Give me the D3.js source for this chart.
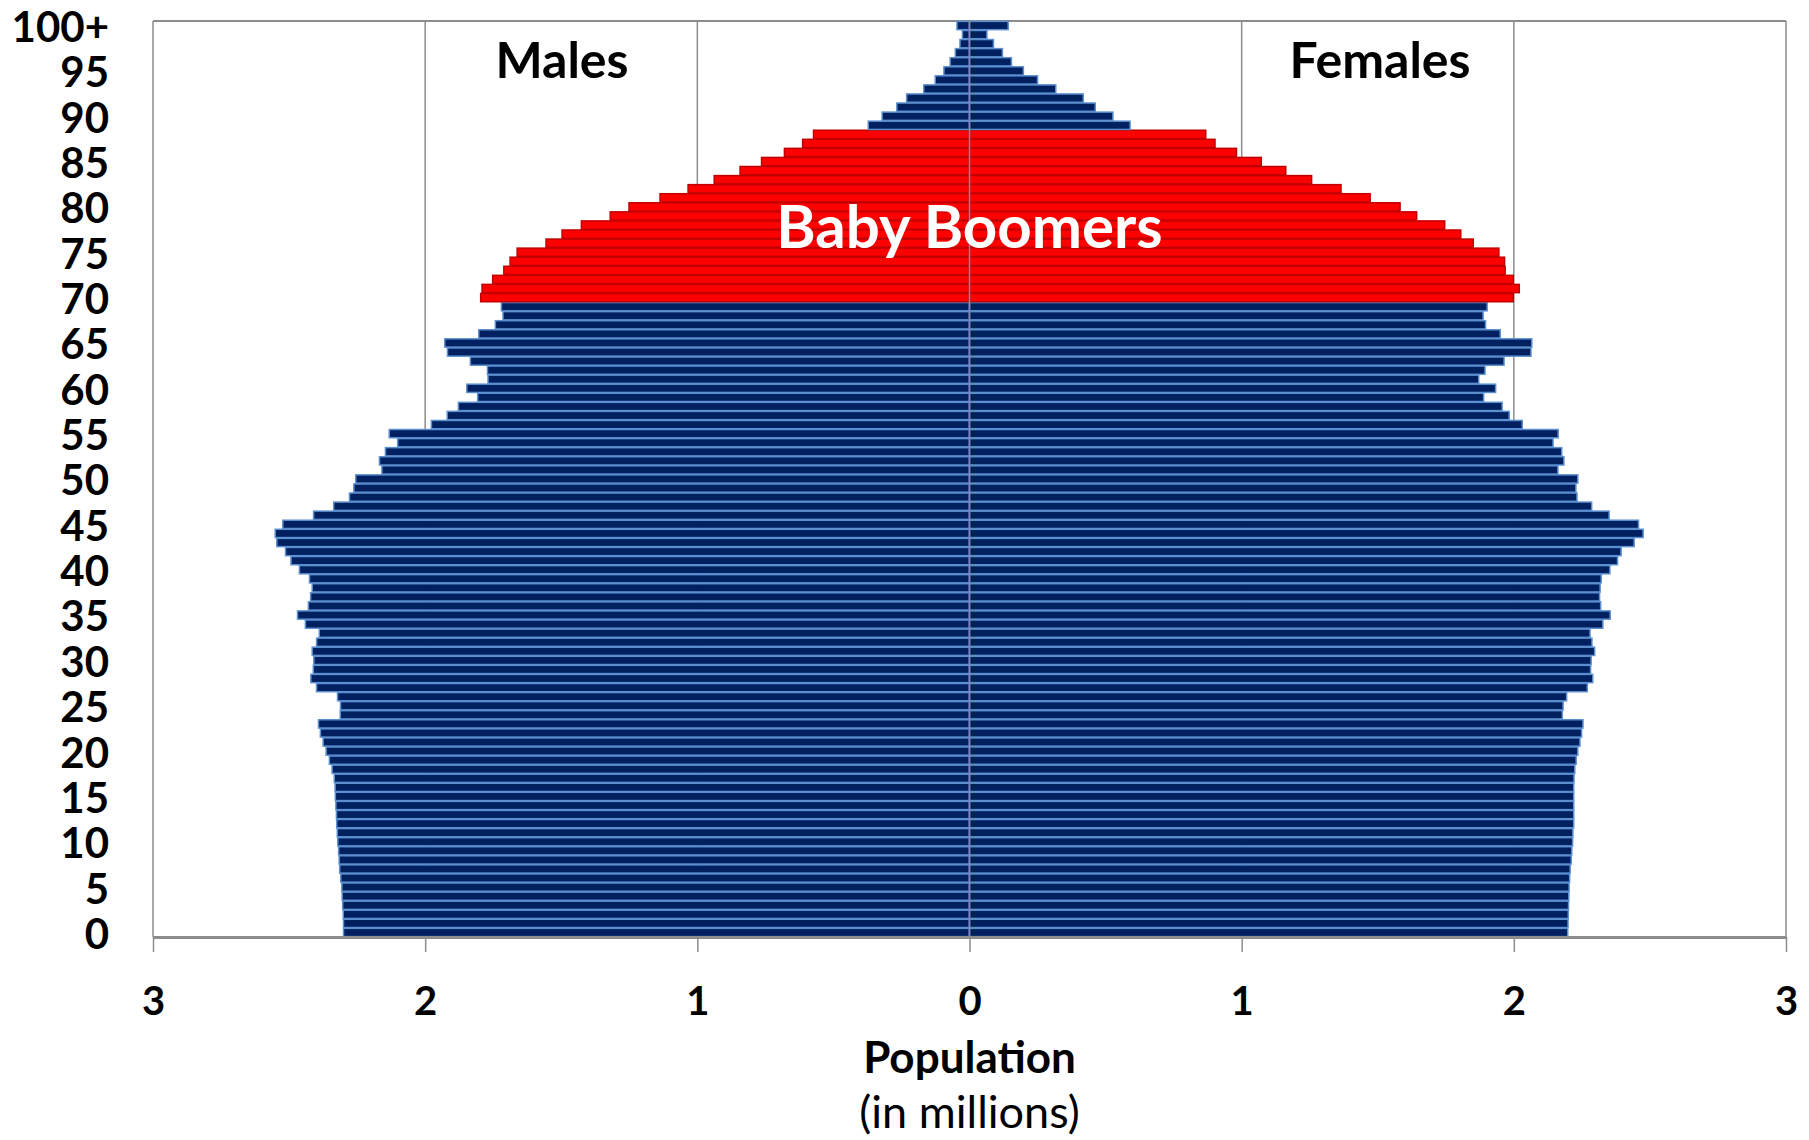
<!DOCTYPE html>
<html>
<head>
<meta charset="utf-8">
<script src="https://cdn.jsdelivr.net/npm/d3@7"></script>
<style>
	body { margin: 0; background: #fff; }
	svg text { font-family: Lato, "Open Sans", sans-serif; }
</style>
</head>
<body>
<svg></svg>
<script>
// age groups, bottom (0) to top (100+)
const ages = d3.range(0, 100).map(String).concat(["100+"]);

// population in millions, index = age
const males = [
	2.300, 2.300, 2.301, 2.303, 2.305, 2.306, 2.310, 2.314, 2.316, 2.318,
	2.321, 2.323, 2.325, 2.326, 2.328, 2.330, 2.331, 2.334, 2.342, 2.352,
	2.364, 2.375, 2.385, 2.392, 2.312, 2.311, 2.322, 2.399, 2.420, 2.411,
	2.409, 2.415, 2.399, 2.389, 2.440, 2.469, 2.429, 2.421, 2.415, 2.425,
	2.462, 2.493, 2.513, 2.545, 2.551, 2.523, 2.410, 2.336, 2.278, 2.262,
	2.255, 2.159, 2.168, 2.146, 2.101, 2.132, 1.977, 1.919, 1.878, 1.807,
	1.847, 1.769, 1.771, 1.834, 1.918, 1.928, 1.803, 1.742, 1.714, 1.720,
	1.796, 1.791, 1.752, 1.711, 1.688, 1.662, 1.556, 1.497, 1.426, 1.320,
	1.251, 1.137, 1.034, 0.938, 0.843, 0.764, 0.680, 0.613, 0.573, 0.372,
	0.321, 0.267, 0.231, 0.168, 0.126, 0.094, 0.071, 0.052, 0.035, 0.026,
	0.046
];

const females = [
	2.198, 2.199, 2.200, 2.201, 2.202, 2.203, 2.205, 2.207, 2.211, 2.213,
	2.216, 2.217, 2.220, 2.220, 2.220, 2.220, 2.220, 2.221, 2.224, 2.229,
	2.235, 2.243, 2.249, 2.254, 2.178, 2.181, 2.194, 2.270, 2.290, 2.282,
	2.284, 2.297, 2.287, 2.280, 2.327, 2.354, 2.319, 2.315, 2.317, 2.321,
	2.353, 2.381, 2.394, 2.442, 2.475, 2.458, 2.350, 2.286, 2.232, 2.228,
	2.235, 2.162, 2.184, 2.176, 2.144, 2.163, 2.031, 1.983, 1.957, 1.889,
	1.933, 1.871, 1.894, 1.964, 2.063, 2.066, 1.950, 1.896, 1.887, 1.902,
	1.998, 2.020, 1.998, 1.968, 1.966, 1.945, 1.851, 1.805, 1.746, 1.643,
	1.582, 1.472, 1.365, 1.257, 1.162, 1.072, 0.981, 0.902, 0.868, 0.590,
	0.527, 0.462, 0.418, 0.317, 0.250, 0.198, 0.154, 0.121, 0.088, 0.064,
	0.142
];

// ages highlighted as the baby boomer cohort
const boomerAges = ["70", "71", "72", "73", "74", "75", "76", "77", "78", "79",
	"80", "81", "82", "83", "84", "85", "86", "87", "88"];

const ageTicks = ["0", "5", "10", "15", "20", "25", "30", "35", "40", "45", "50",
	"55", "60", "65", "70", "75", "80", "85", "90", "95", "100+"];
const popTicks = [-3, -2, -1, 0, 1, 2, 3];

const margin = {
	"top": 21,
	"right": 23,
	"bottom": 203,
	"left": 153
};

const width = 1809 - margin.left - margin.right;
const height = 1140 - margin.top - margin.bottom;

const navy = '#002060';
const navyEdge = '#5b8fd0';
const red = '#ff0000';
const redEdge = '#c00000';
const gridColour = '#8c8c8c';

let svg = d3.select('svg')
	.attr('width', 1809)
	.attr('height', 1140);

let container = svg.append('g')
	.attr('transform', 'translate(' + margin.left + ',' + margin.top + ')');

let x = d3.scaleLinear()
	.domain([-3, 3])
	.range([0, width]);

let y = d3.scaleBand()
	.domain(ages.slice().reverse())
	.range([0, height]);

function drawGrid(){
	// vertical gridlines behind bars
	container.append('g')
		.selectAll('line')
		.data(popTicks.filter(d => d !== 0))
		.enter()
		.append('line')
		.attr('x1', d => x(d))
		.attr('x2', d => x(d))
		.attr('y1', 0)
		.attr('y2', height)
		.attr('stroke', gridColour)
		.attr('stroke-width', 1.5);

	container.append('line')
		.attr('x1', 0)
		.attr('x2', width)
		.attr('y1', 0)
		.attr('y2', 0)
		.attr('stroke', gridColour)
		.attr('stroke-width', 2);
};

function drawBars(){
	let rows = ages.map(function(a, i){
		return {"age": a, "male": males[i], "female": females[i]};
	});

	let fill = d => boomerAges.includes(d.age) ? red : navy;
	let edge = d => boomerAges.includes(d.age) ? redEdge : navyEdge;

	let bars = container.append('g').classed('bars', true);

	bars.selectAll('rect.male')
		.data(rows)
		.enter()
		.append('rect')
		.classed('male', true)
		.attr('x', d => x(-d.male))
		.attr('width', d => x(0) - x(-d.male))
		.attr('y', d => y(d.age) + 0.4)
		.attr('height', y.bandwidth() - 0.8)
		.attr('fill', fill)
		.attr('stroke', edge)
		.attr('stroke-width', 1.5);

	bars.selectAll('rect.female')
		.data(rows)
		.enter()
		.append('rect')
		.classed('female', true)
		.attr('x', x(0))
		.attr('width', d => x(d.female) - x(0))
		.attr('y', d => y(d.age) + 0.4)
		.attr('height', y.bandwidth() - 0.8)
		.attr('fill', fill)
		.attr('stroke', edge)
		.attr('stroke-width', 1.5);

	// centre axis sits on top of the bars
	container.append('line')
		.attr('x1', x(0))
		.attr('x2', x(0))
		.attr('y1', 0)
		.attr('y2', height)
		.attr('stroke', gridColour)
		.attr('stroke-width', 1.5);
};

function drawAxes(){
	let xAxis = container.append('g')
		.attr('transform', 'translate(0,' + height + ')')
		.call(d3.axisBottom(x)
			.tickValues(popTicks)
			.tickFormat(d => Math.abs(d))
			.tickSize(15)
			.tickSizeOuter(0)
			.tickPadding(35));

	xAxis.select('.domain')
		.attr('stroke', gridColour)
		.attr('stroke-width', 3);
	xAxis.selectAll('.tick line')
		.attr('stroke', gridColour)
		.attr('stroke-width', 1.5);
	xAxis.selectAll('text')
		.attr('font-size', 40)
		.attr('font-weight', 'bold')
		.attr('fill', '#000');

	let yAxis = container.append('g')
		.call(d3.axisLeft(y)
			.tickValues(ageTicks)
			.tickSize(0)
			.tickPadding(44));

	yAxis.select('.domain').remove();
	yAxis.selectAll('text')
		.attr('y', 3)
		.attr('font-size', 42)
		.attr('font-weight', 'bold')
		.attr('fill', '#000');
};

function drawLabels(){
	svg.append('text')
		.attr('x', 562)
		.attr('y', 78)
		.attr('text-anchor', 'middle')
		.attr('font-size', 50)
		.attr('font-weight', 'bold')
		.text('Males');

	svg.append('text')
		.attr('x', 1380)
		.attr('y', 78)
		.attr('text-anchor', 'middle')
		.attr('font-size', 50)
		.attr('font-weight', 'bold')
		.text('Females');

	svg.append('text')
		.attr('x', margin.left + x(0))
		.attr('y', 248)
		.attr('text-anchor', 'middle')
		.attr('font-size', 60)
		.attr('font-weight', 'bold')
		.attr('fill', '#fff')
		.text('Baby Boomers');

	svg.append('text')
		.attr('x', margin.left + x(0))
		.attr('y', 1073)
		.attr('text-anchor', 'middle')
		.attr('font-size', 44)
		.attr('font-weight', 'bold')
		.text('Population');

	svg.append('text')
		.attr('x', margin.left + x(0))
		.attr('y', 1128)
		.attr('text-anchor', 'middle')
		.attr('font-size', 45)
		.text('(in millions)');
};

drawGrid();
drawBars();
drawAxes();
drawLabels();
</script>
</body>
</html>
